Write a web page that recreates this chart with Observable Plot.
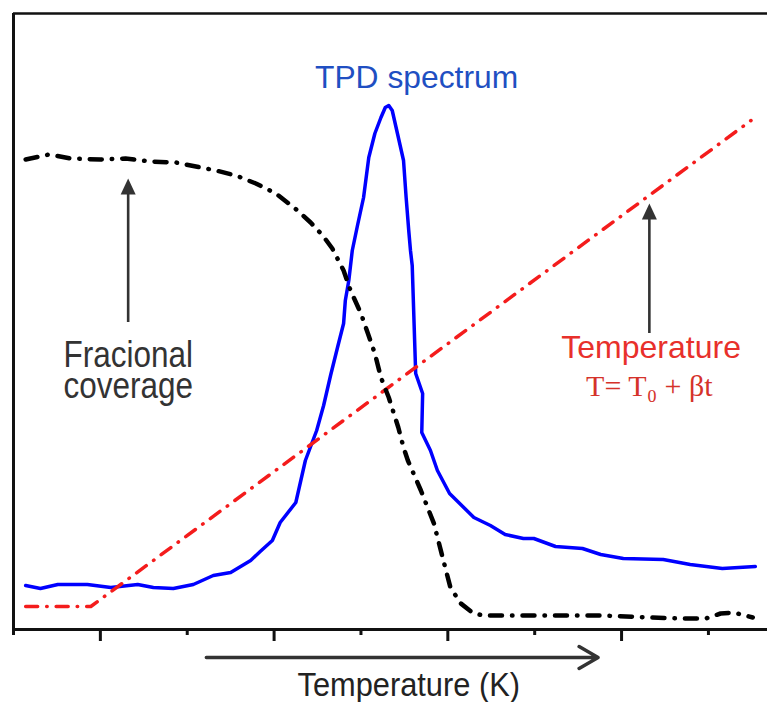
<!DOCTYPE html>
<html>
<head>
<meta charset="utf-8">
<script src="https://cdn.jsdelivr.net/npm/d3@7"></script>
<script src="https://cdn.jsdelivr.net/npm/@observablehq/plot@0.6"></script>
<style>
  body { margin: 0; background: #fff; }
</style>
</head>
<body>
<div id="chart"></div>
<script>
// TPD spectrum (temperature, intensity in arbitrary units)
const tpdT = [14, 31, 51, 85, 112, 143, 161, 184, 207, 230, 250, 273, 284, 298, 307, 325, 336, 349, 357, 365, 373, 380, 382, 386, 390, 396, 403, 409, 416, 423, 428, 432, 436, 442, 449, 452, 455, 457, 459, 463, 471, 470, 480, 488, 502, 530, 549, 566, 587, 599, 624, 655, 676, 702, 748, 779, 816, 854];
const tpdI = [44, 41, 45, 45, 42, 45, 42, 41, 45, 54, 57, 69, 78, 89, 107, 127, 169, 199, 224, 254, 282, 306, 329, 349, 379, 404, 432, 472, 496, 512, 522, 524, 519, 496, 469, 432, 399, 379, 364, 256, 236, 197, 179, 159, 136, 112, 104, 95, 91, 91, 83, 81, 75, 71, 70, 65, 61, 63];

// Fractional coverage
const covT = [14, 41, 66, 100, 129, 158, 187, 210, 233, 256, 279, 302, 327, 342, 356, 367, 380, 388, 400, 408, 416, 423, 432, 443, 449, 454, 469, 484, 494, 503, 515, 528, 540, 561, 607, 676, 733, 771, 797, 814, 829, 851];
const covI = [470, 475, 471, 470, 471, 468, 467, 463, 459, 454, 446, 436, 419, 407, 394, 381, 359, 339, 316, 296, 276, 252, 232, 202, 182, 169, 139, 106, 72, 42, 26, 17, 14, 14, 14, 14, 12, 11, 11, 16, 17, 12];

// Temperature ramp T = T0 + beta t
const rampT = [14, 89, 849];
const rampI = [23, 23, 509];

// Axis ticks (unlabelled)
const majorTicks = [100, 300, 500, 700];
const minorTicks = [200, 400, 600, 800];

// Texts
const titleTPD = "TPD spectrum";
const covLines = ["Fracional", "coverage"];
const tempLabel = "Temperature";
const tempFormula = "T= T\u2080 + \u03B2t";
const xLabel = "Temperature (K)";

const tpd = tpdT.map((t, i) => ({t, v: tpdI[i]}));
const cov = covT.map((t, i) => ({t, v: covI[i]}));
const ramp = rampT.map((t, i) => ({t, v: rampI[i]}));

const headUp = {
  draw(ctx) {
    ctx.moveTo(0, 0);
    ctx.lineTo(7.5, 16);
    ctx.lineTo(-7.5, 16);
    ctx.closePath();
  }
};

const sans = "'Liberation Sans', Arial, Helvetica, sans-serif";
const serif = "'Liberation Serif', 'Times New Roman', serif";

const svg = Plot.plot({
  width: 767,
  height: 702,
  marginLeft: 13,
  marginRight: 0,
  marginTop: 13,
  marginBottom: 73,
  x: {domain: [0, 868], axis: null},
  y: {domain: [0, 616], axis: null},
  style: {fontFamily: sans, background: "white", overflow: "visible"},
  marks: [
    // frame
    Plot.ruleY([616], {x1: 0, x2: 868, stroke: "#111", strokeWidth: 2.5}),
    Plot.ruleX([0], {y1: -6, y2: 616, stroke: "#111", strokeWidth: 3}),
    Plot.ruleY([0], {x1: 0, x2: 868, stroke: "#111", strokeWidth: 3.2}),
    Plot.ruleX(majorTicks, {y1: 0, y2: -12, stroke: "#111", strokeWidth: 3}),
    Plot.ruleX(minorTicks, {y1: 0, y2: -6, stroke: "#111", strokeWidth: 3}),
    // curves
    Plot.line(tpd, {x: "t", y: "v", stroke: "#0000ff", strokeWidth: 3.5, strokeLinejoin: "round", strokeLinecap: "round"}),
    Plot.line(ramp, {x: "t", y: "v", stroke: "#f41c1c", strokeWidth: 3.5, strokeDasharray: "12,9,0.5,9", strokeLinecap: "round"}),
    Plot.line(cov, {x: "t", y: "v", stroke: "#000", strokeWidth: 4.5, strokeDasharray: "12,10,0.5,10", strokeLinecap: "round", strokeLinejoin: "round"}),
    // vertical annotation arrows
    Plot.ruleX([{x: 132, y1: 307, y2: 438}, {x: 732, y1: 296, y2: 413}], {x: "x", y1: "y1", y2: "y2", stroke: "#333", strokeWidth: 2.6}),
    Plot.dot([{x: 132, y: 451}, {x: 732, y: 426}], {x: "x", y: "y", symbol: headUp, fill: "#333", stroke: "none"}),
    // bottom axis arrow
    Plot.arrow([{x1: 222, x2: 673, y: -28}], {x1: "x1", x2: "x2", y1: "y", y2: "y", stroke: "#333", strokeWidth: 3.5, headLength: 9.4, headAngle: 60}),
    // texts
    Plot.text([{x: 464, y: 542, s: titleTPD}], {x: "x", y: "y", text: "s", fill: "#1f4fc2", fontSize: 31.8, lineAnchor: "bottom", textAnchor: "middle"}),
    Plot.text([{x: 132, y: 263, s: covLines[0]}, {x: 132, y: 232, s: covLines[1]}], {x: "x", y: "y", text: "s", fill: "#333", fontSize: 31.5, lineAnchor: "bottom", textAnchor: "middle"}),
    Plot.text([{x: 734, y: 272, s: tempLabel}], {x: "x", y: "y", text: "s", fill: "#e8302b", fontSize: 32, lineAnchor: "bottom", textAnchor: "middle"}),
    Plot.text([{x: 732, y: 234, s: tempFormula}], {x: "x", y: "y", text: "s", fill: "#d5322a", fontSize: 30, fontFamily: serif, lineAnchor: "bottom", textAnchor: "middle"}),
    Plot.text([{x: 455, y: -66, s: xLabel}], {x: "x", y: "y", text: "s", fill: "#222", fontSize: 30.8, lineAnchor: "bottom", textAnchor: "middle"})
  ]
});

// slight vertical stretch of the coverage label, as in the reference
const stretch = new Map([[covLines[0], 1.18], [covLines[1], 1.18], [xLabel, 1.05]]);
d3.select(svg).selectAll("text").each(function () {
  const s = stretch.get(this.textContent);
  if (!s) return;
  const tr = this.getAttribute("transform");
  if (tr) {
    this.setAttribute("transform", tr + ` scale(1,${s})`);
  } else {
    const x = this.getAttribute("x") || 0, y = this.getAttribute("y") || 0;
    this.removeAttribute("x"); this.removeAttribute("y");
    this.setAttribute("transform", `translate(${x},${y}) scale(1,${s})`);
  }
});

document.getElementById("chart").appendChild(svg);
</script>
</body>
</html>
